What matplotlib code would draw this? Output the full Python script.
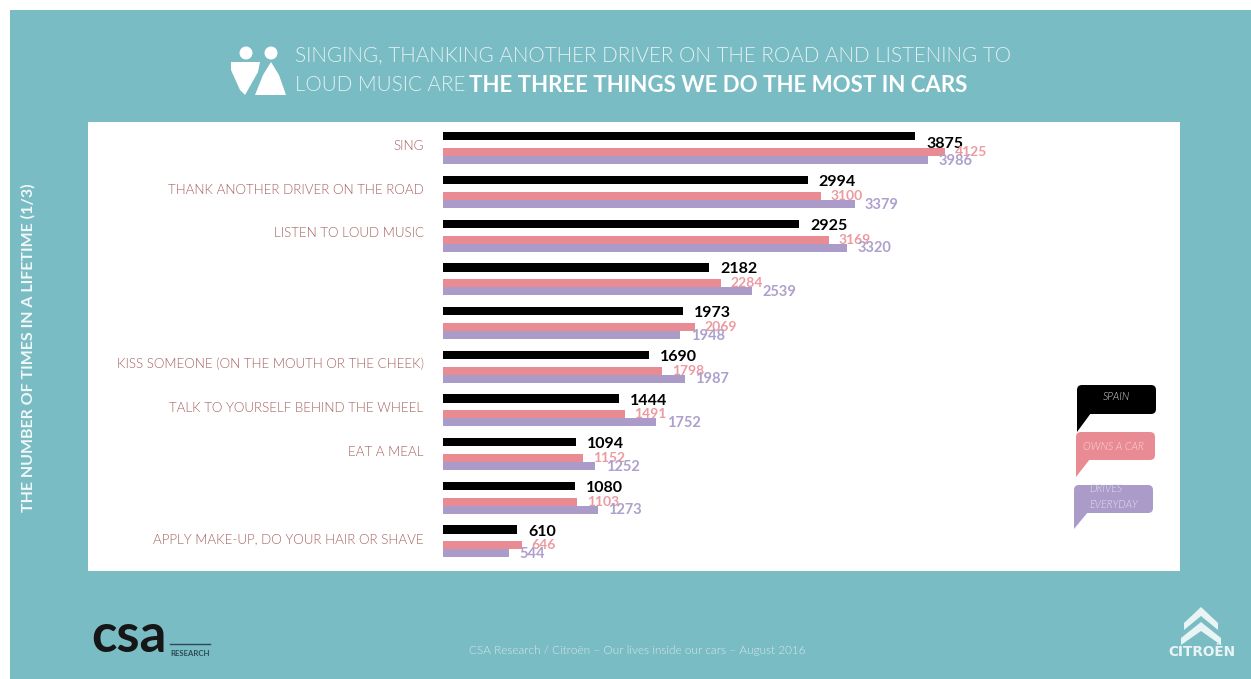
import matplotlib
matplotlib.use("Agg")
import matplotlib.pyplot as plt
from matplotlib.patches import Rectangle, Polygon, Ellipse, FancyBboxPatch

W, H = 1251, 679
TEAL = "#7ABCC4"
BLACK = "#000000"
PINK = "#E98B92"
PURPLE = "#AA9BC9"
LABEL = "#A4625F"
LIGHT = 300

categories = ["SING", "THANK ANOTHER DRIVER ON THE ROAD", "LISTEN TO LOUD MUSIC", "", "",
              "KISS SOMEONE (ON THE MOUTH OR THE CHEEK)", "TALK TO YOURSELF BEHIND THE WHEEL",
              "EAT A MEAL", "", "APPLY MAKE-UP, DO YOUR HAIR OR SHAVE"]
spain = [3875, 2994, 2925, 2182, 1973, 1690, 1444, 1094, 1080, 610]
owns_car = [4125, 3100, 3169, 2284, 2069, 1798, 1491, 1152, 1103, 646]
drives_everyday = [3986, 3379, 3320, 2539, 1948, 1987, 1752, 1252, 1273, 544]

plt.rcParams["font.family"] = ["Lato", "DejaVu Sans"]
fig = plt.figure(figsize=(W / 100, H / 100), dpi=100, facecolor="white")

# Page layer in pixel coordinates
bg = fig.add_axes([0, 0, 1, 1])
bg.set_xlim(0, W)
bg.set_ylim(H, 0)
bg.axis("off")
bg.add_patch(Rectangle((10, 10), W - 10, H - 10, color=TEAL, lw=0))
bg.add_patch(Rectangle((88, 122), 1092, 449, color="white", lw=0))

# Title
bg.text(295, 55, "SINGING, THANKING ANOTHER DRIVER ON THE ROAD AND LISTENING TO",
        color="#E4F1F3", fontsize=14.85, fontweight=LIGHT, va="center", ha="left")
bg.text(295, 85, "LOUD MUSIC ARE", color="#E4F1F3", fontsize=14.85,
        fontweight=LIGHT, va="center", ha="left")
bg.text(469, 85.5, "THE THREE THINGS WE DO THE MOST IN CARS", color="white", fontsize=16.0,
        fontweight="bold", va="center", ha="left")

# Title icon
bg.add_patch(Ellipse((246, 53), 13, 13, color="white", lw=0))
bg.add_patch(Ellipse((271, 53), 13, 13, color="white", lw=0))
bg.add_patch(Polygon([[231, 62], [260, 62], [258, 72], [245, 95], [240, 90], [231, 70]], color="white", lw=0))
bg.add_patch(Polygon([[271, 62], [279, 75], [286, 95], [255, 95], [263, 75]], color="white", lw=0))

# Side title
bg.text(28, 348, "THE NUMBER OF TIMES IN A LIFETIME (1/3)", color="#F2F8F9", fontsize=11.5,
        fontweight="bold", rotation=90, va="center", ha="center")

# Chart axes placed over the white panel
left, right, top, bottom = 88, 1180, 122, 571
ax = fig.add_axes([left / W, 1 - bottom / H, (right - left) / W, (bottom - top) / H])
ax.patch.set_alpha(0)
px_per_unit = 0.1218
ax.set_xlim((left - 443) / px_per_unit, (right - 443) / px_per_unit)
group = 43.67
ax.set_ylim((bottom - 136.4) / group, (top - 136.4) / group)
ax.axis("off")

off = [0, 15.9 / group, 24.0 / group]
h = [8.2 / group, 8.0 / group, 8.0 / group]
rows = list(range(len(categories)))
for vals, o, bh, col in zip([spain, owns_car, drives_everyday], off, h, [BLACK, PINK, PURPLE]):
    ax.barh([r + o for r in rows], vals, height=bh, color=col, lw=0)

for r, name, a, b, c in zip(rows, categories, spain, owns_car, drives_everyday):
    ax.annotate(str(a), (a, r), xytext=(8, -5.5 if r == 0 else -1.5), textcoords="offset points",
                color="black", fontsize=11.5, fontweight="bold", va="center", ha="left")
    ax.annotate(str(b), (b, r + off[1]), xytext=(7, 0), textcoords="offset points", color="#EC9AA0",
                fontsize=10, fontweight="bold", va="center", ha="left")
    ax.annotate(str(c), (c, r + off[2]), xytext=(7.5, -0.5), textcoords="offset points", color="#ADA0CC",
                fontsize=10.5, fontweight="bold", va="center", ha="left")
    if name:
        ax.annotate(name, (0, r), xytext=(-14, -7), textcoords="offset points", color=LABEL,
                    fontsize=9.65, fontweight=LIGHT, va="center", ha="right")


# Legend speech bubbles
def bubble(x0, y0, x1, y1, tip, col):
    bg.add_patch(FancyBboxPatch((x0 + 4, y0 + 4), x1 - x0 - 8, y1 - y0 - 8,
                                boxstyle="round,pad=4,rounding_size=5", color=col, lw=0))
    bg.add_patch(Polygon([[x0, y1 - 6], [x0 + 14, y1 - 1], [x0, tip]], color=col, lw=0))


bubble(1077, 385, 1156, 414, 432, BLACK)
bubble(1076, 432, 1155, 460, 477, PINK)
bubble(1074, 485, 1153, 513, 529, PURPLE)
bg.text(1116, 397, "SPAIN", color="#DDDDDD", fontsize=7.6, style="italic", fontweight=LIGHT,
        ha="center", va="center")
bg.text(1113, 446, "OWNS A CAR", color="#F6DADC", fontsize=7.6, style="italic", fontweight=LIGHT,
        ha="center", va="center")
bg.text(1089, 489, "DRIVES", color="#E4DFEF", fontsize=7.6, style="italic", fontweight=LIGHT,
        ha="left", va="center")
bg.text(1089, 504, "EVERYDAY", color="#E4DFEF", fontsize=7.6, style="italic", fontweight=LIGHT,
        ha="left", va="center")

# Footer
bg.text(637, 651, "CSA Research / Citroën – Our lives inside our cars – August 2016",
        color="#D5E9EC", fontsize=8.5, fontweight=LIGHT, ha="center", va="center")
bg.text(91, 636, "csa", color="#161616", fontsize=38, fontweight="bold", ha="left", va="center")
bg.plot([170, 210], [644, 644], color="#2B4A52", lw=1)
bg.text(170, 653, "RESEARCH", color="#2B4A52", fontsize=5.6, fontweight="bold", ha="left", va="center")

# Citroen chevrons
for dy, half in ((0, 17), (15, 20)):
    bg.add_patch(Polygon([[1201 - half, 623 + dy], [1201, 607 + dy], [1201 + half, 623 + dy],
                          [1201 + half, 630 + dy], [1201, 616 + dy], [1201 - half, 630 + dy]],
                         color="#E9F4F5", lw=0))
bg.text(1202, 652.5, "CITROËN", color="#E9F4F5", fontsize=9.8, fontweight="bold", ha="center", va="center",
        family="DejaVu Sans")

fig.savefig("out.png", dpi=100, facecolor="white")
